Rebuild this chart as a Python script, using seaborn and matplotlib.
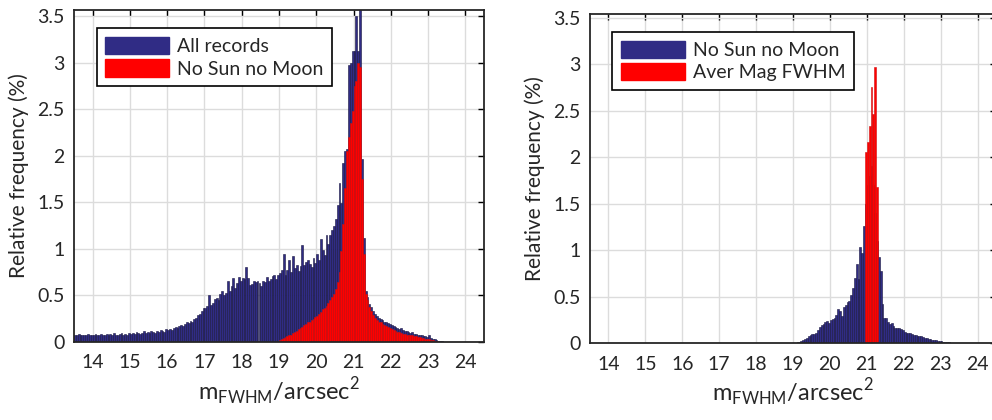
import numpy as np
import pandas as pd
import seaborn as sns
import matplotlib
matplotlib.use("Agg")
import matplotlib.pyplot as plt
from matplotlib.patches import Patch

# bin width of the magnitude histograms (mag/arcsec^2)
bin_width = 0.05

# left panel: all records, bins start at 13.50
all_start = 13.50
all_records = [
    0.08, 0.07, 0.09, 0.07, 0.08, 0.07, 0.08, 0.09, 0.07, 0.08,
    0.08, 0.09, 0.07, 0.08, 0.09, 0.08, 0.07, 0.09, 0.08, 0.09, 0.08, 0.10, 0.08, 0.07, 0.09, 0.10, 0.08, 0.09, 0.08, 0.10,
    0.09, 0.10, 0.09, 0.11, 0.10, 0.09, 0.10, 0.12, 0.10, 0.11, 0.10, 0.12, 0.11, 0.10, 0.12, 0.11, 0.13, 0.12, 0.11, 0.14,
    0.13, 0.14, 0.13, 0.15, 0.16, 0.15, 0.17, 0.18, 0.17, 0.19, 0.21, 0.20, 0.23, 0.22, 0.25, 0.26, 0.29, 0.30, 0.33, 0.36,
    0.37, 0.39, 0.50, 0.40, 0.42, 0.46, 0.47, 0.45, 0.52, 0.55, 0.50, 0.53, 0.65, 0.55, 0.60, 0.69, 0.58, 0.63, 0.70, 0.66,
    0.69, 0.68, 0.80, 0.69, 0.61, 0.62, 0.65, 0.64, 0.66, 0.63, 0.60, 0.66, 0.64, 0.70, 0.66, 0.68, 0.71, 0.72, 0.68, 0.72,
    0.74, 0.77, 0.95, 0.72, 0.77, 0.88, 0.75, 0.92, 0.79, 0.83, 0.76, 0.82, 1.04, 0.83, 0.86, 0.88, 0.84, 0.80, 0.90, 0.85,
    0.95, 0.88, 1.11, 0.99, 0.93, 1.15, 1.05, 1.15, 1.20, 1.25, 1.32, 1.47, 1.71, 1.49, 1.92, 2.05, 2.07, 2.97, 3.00, 3.13,
    3.13, 3.50, 3.13, 3.70, 1.97, 1.12, 0.55, 0.48, 0.41, 0.38, 0.33, 0.30, 0.28, 0.26, 0.25, 0.24, 0.22, 0.21, 0.20, 0.19,
    0.18, 0.17, 0.16, 0.15, 0.14, 0.15, 0.13, 0.12, 0.12, 0.11, 0.10, 0.11, 0.09, 0.09, 0.08, 0.07, 0.07, 0.06, 0.06, 0.05,
    0.07, 0.04, 0.03, 0.03, 0.02, 0.01, 0.01, 0.01,
]

# left panel: no sun no moon, bins start at 19.00
nsnm_start = 19.00
no_sun_moon = [
    0.02, 0.03, 0.04, 0.05, 0.06, 0.07, 0.08, 0.10, 0.11, 0.12, 0.14, 0.15, 0.16, 0.18, 0.19, 0.21, 0.22, 0.24, 0.25, 0.27,
    0.28, 0.30, 0.32, 0.35, 0.37, 0.39, 0.42, 0.45, 0.48, 0.52, 0.57, 0.64, 0.75, 0.98, 1.27, 1.65, 2.05, 2.20, 2.35, 2.48,
    2.75, 2.80, 3.00, 2.95, 1.75, 0.95, 0.52, 0.45, 0.38, 0.33, 0.29, 0.26, 0.24, 0.22, 0.21, 0.19, 0.18, 0.17, 0.16, 0.15,
    0.14, 0.13, 0.12, 0.11, 0.11, 0.10, 0.09, 0.09, 0.08, 0.08, 0.07, 0.07, 0.06, 0.06, 0.05, 0.05, 0.04, 0.04, 0.03, 0.03,
    0.03, 0.02, 0.02, 0.01, 0.01,
]

# right panel: no sun no moon (other normalisation), bins start at 19.10
nsnm2_start = 19.10
no_sun_moon_2 = [
    0.01, 0.01, 0.02, 0.03, 0.04, 0.05, 0.07, 0.09, 0.10, 0.10, 0.11, 0.14, 0.17, 0.19, 0.20, 0.23, 0.24, 0.22,
    0.25, 0.26, 0.27, 0.30, 0.37, 0.34, 0.29, 0.39, 0.41, 0.44, 0.45, 0.52, 0.59, 0.70, 0.85, 0.69, 1.03, 0.97, 1.26, 1.50,
    1.70, 1.80, 1.90, 1.70, 1.40, 1.10, 0.93, 0.78, 0.42, 0.27, 0.27, 0.23, 0.20, 0.21, 0.18, 0.16, 0.16, 0.16, 0.15, 0.14,
    0.12, 0.11, 0.11, 0.11, 0.10, 0.09, 0.09, 0.08, 0.07, 0.07, 0.06, 0.05, 0.05, 0.04, 0.04, 0.03, 0.03, 0.03, 0.02, 0.02,
    0.02, 0.01, 0.01, 0.01, 0.01, 0.005,
]

# right panel: average magnitude FWHM, bins start at 20.95
aver_start = 20.95
aver_mag = [2.06, 2.16, 2.33, 2.75, 2.46, 2.97, 1.68]

x_ticks = list(range(14, 25))
y_ticks = [0, 0.5, 1, 1.5, 2, 2.5, 3, 3.5]
y_tick_labels = ["0", "0.5", "1", "1.5", "2", "2.5", "3", "3.5"]

BLUE = "#302C85"
BLUE_EDGE = "#17143F"
RED = "#FF0000"
RED_EDGE = "#D01010"

sns.set_theme(style="white")
plt.rcParams["font.family"] = ["Lato", "DejaVu Sans"]


def draw_hist(ax, start, values, color, edge):
    n = len(values)
    centers = start + bin_width * (np.arange(n) + 0.5)
    df = pd.DataFrame({"mag": centers, "freq": values})
    sns.histplot(data=df, x="mag", weights="freq", binwidth=bin_width,
                 binrange=(start, start + n * bin_width), ax=ax, color=color,
                 edgecolor=edge, linewidth=0.4, alpha=1, stat="count")


def style_axes(ax, ytop, labels):
    ax.set_xlim(13.5, 24.5)
    ax.set_ylim(0, ytop)
    ax.set_xticks(x_ticks)
    ax.set_yticks(y_ticks)
    ax.set_yticklabels(y_tick_labels)
    ax.set_axisbelow(True)
    ax.grid(True, color="#DCDCDC", linewidth=1)
    ax.tick_params(direction="in", top=True, right=True, length=4, width=1,
                   colors="black", labelsize=14)
    ax.tick_params(axis="x", pad=9)
    ax.tick_params(axis="y", pad=7)
    for lab in ax.get_xticklabels() + ax.get_yticklabels():
        lab.set_color("#262626")
    for sp in ax.spines.values():
        sp.set_visible(True)
        sp.set_color("#262626")
        sp.set_linewidth(1.3)
    ax.set_xlabel(r"m$_{\mathregular{FWHM}}$/arcsec$^{\mathregular{2}}$",
                  fontsize=17, color="#262626", labelpad=3)
    ax.set_ylabel("Relative frequency (%)", fontsize=15, color="#262626", labelpad=6)
    handles = [Patch(facecolor=BLUE, edgecolor=BLUE), Patch(facecolor=RED, edgecolor=RED)]
    leg = ax.legend(handles, labels, loc="upper left", bbox_to_anchor=(0.055, 0.945),
                    fancybox=False, edgecolor="black", framealpha=1, fontsize=14,
                    handlelength=3.3, handleheight=1.0, handletextpad=0.4,
                    borderpad=0.45, labelspacing=0.2, borderaxespad=0)
    leg.get_frame().set_linewidth(1.2)


fig = plt.figure(figsize=(9.92, 4.2), dpi=100)
ax1 = fig.add_axes([74 / 992, 78 / 420, 410 / 992, 332 / 420])
ax2 = fig.add_axes([590 / 992, 77 / 420, 406 / 992, 329 / 420])

draw_hist(ax1, all_start, all_records, BLUE, BLUE_EDGE)
draw_hist(ax1, nsnm_start, no_sun_moon, RED, RED_EDGE)
style_axes(ax1, 3.565, ["All records", "No Sun no Moon"])

draw_hist(ax2, nsnm2_start, no_sun_moon_2, BLUE, BLUE_EDGE)
draw_hist(ax2, aver_start, aver_mag, RED, RED_EDGE)
style_axes(ax2, 3.54, ["No Sun no Moon", "Aver Mag FWHM"])

fig.savefig("out.png", dpi=100)
